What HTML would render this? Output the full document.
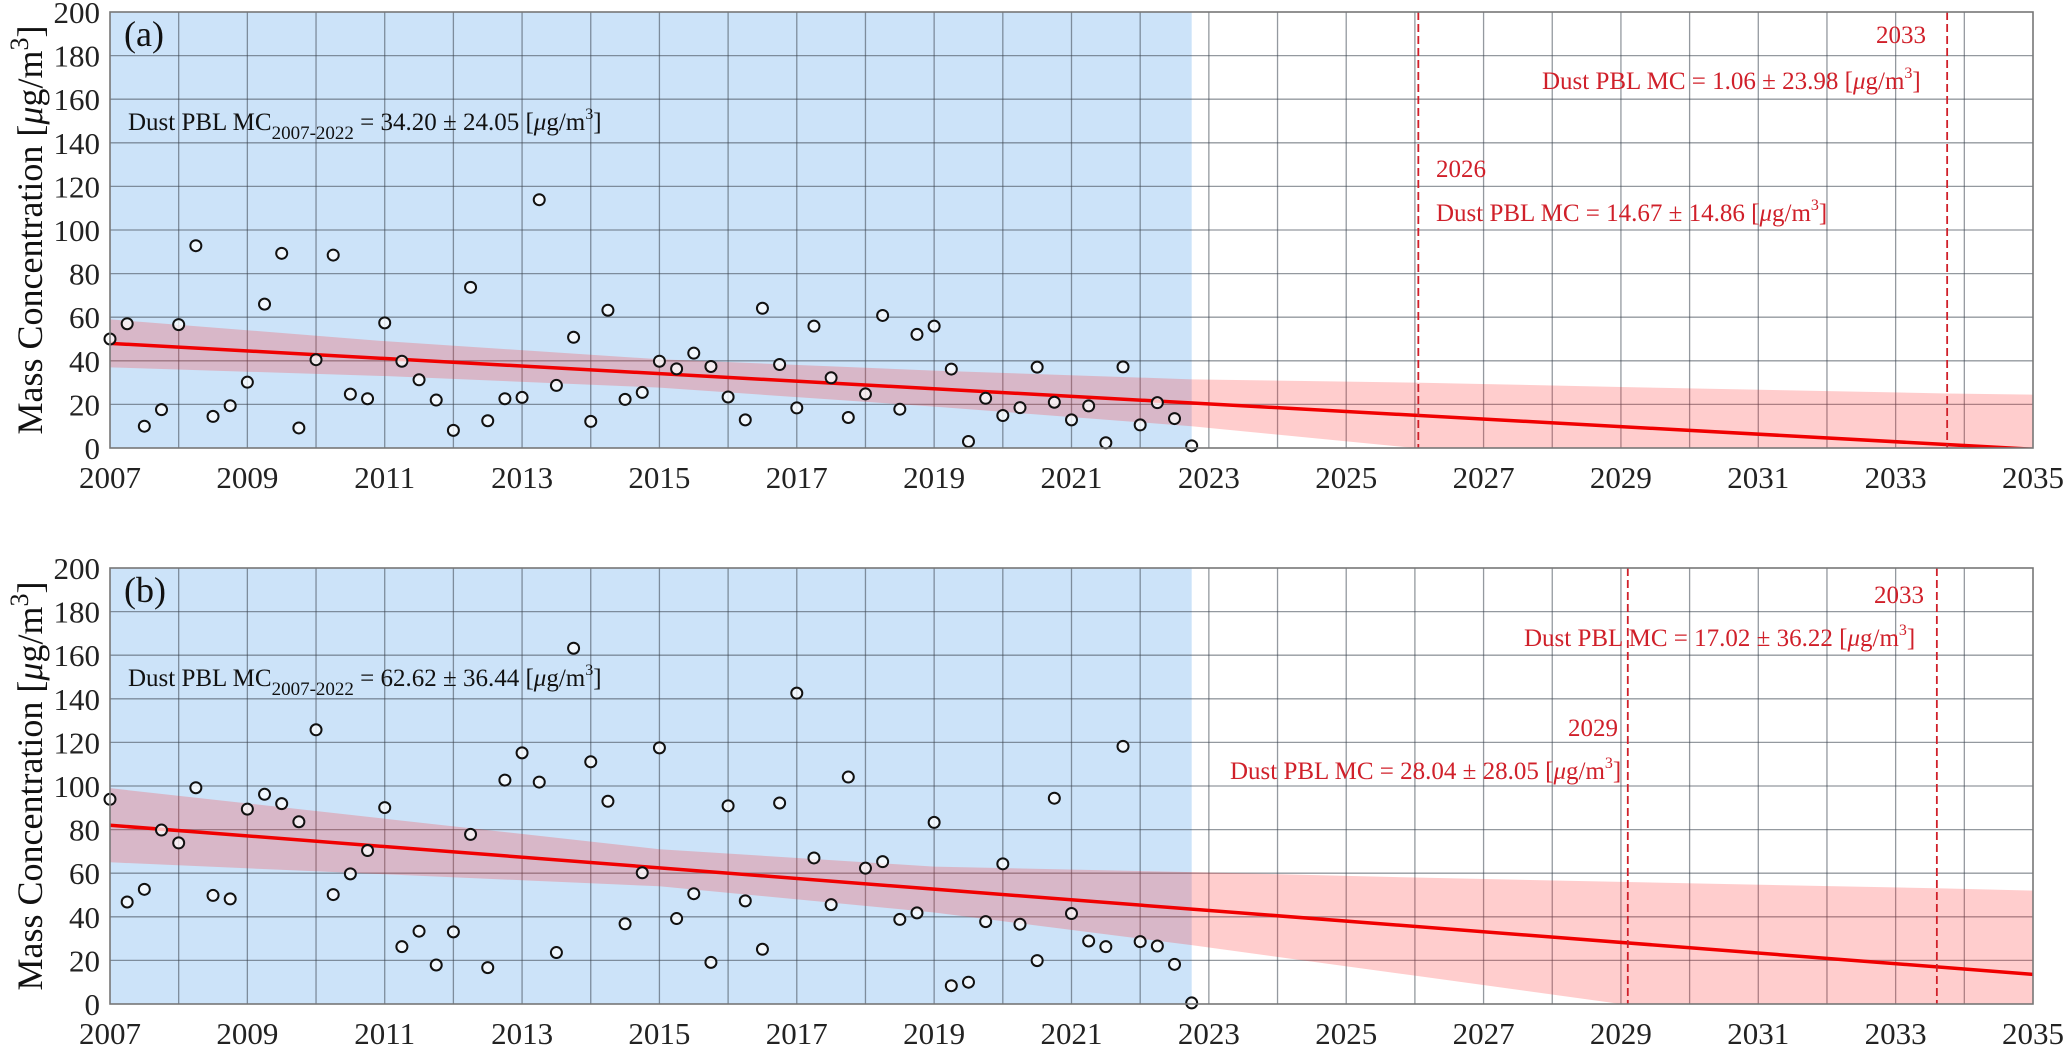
<!DOCTYPE html>
<html><head><meta charset="utf-8"><style>
html,body{margin:0;padding:0;background:#fff;}
svg{display:block;font-family:"Liberation Serif",serif;}
</style></head><body>
<svg id="chart" width="2067" height="1049" viewBox="0 0 2067 1049" xmlns="http://www.w3.org/2000/svg"></svg>
<script>
// ---- data ----
const yearsStart = 2007;
const quarterStep = 0.25;
const valuesA = [50,57,10,17.6,56.6,92.8,14.5,19.4,30.2,66,89.3,9.2,40.5,88.5,24.7,22.6,57.4,39.8,31.3,22,8.1,73.7,12.5,22.6,23.2,113.9,28.7,50.8,12.2,63.2,22.3,25.5,39.8,36.3,43.5,37.4,23.4,12.9,64.1,38.3,18.4,55.9,32.2,14,24.8,60.8,17.8,52.1,55.9,36.2,3,22.8,14.9,18.5,37.1,21,12.9,19.3,2.4,37.2,10.6,20.8,13.5,1];
const valuesB = [93.9,46.8,52.6,79.8,73.9,99.2,49.8,48.2,89.4,96.2,91.9,83.6,125.8,50.2,59.7,70.4,90.1,26.3,33.4,17.9,33.1,77.8,16.7,102.7,115.2,101.8,23.6,163.2,111.1,93,36.8,60.2,117.5,39.2,50.6,19.1,90.9,47.3,25.1,92.2,142.6,67,45.6,104.1,62.3,65.3,38.8,41.8,83.3,8.4,10,37.8,64.3,36.6,19.9,94.4,41.5,28.9,26.3,118.2,28.6,26.6,18.2,0.5];
const bandYears = [2007,2011,2015,2019,2022.75,2026,2029,2033.75,2035];
const upperA = [59,49,40.7,35.5,31.5,30,28,25,24.5];
const lowerA = [37,33,27.7,19,10,0,-8,-22.5,-25];
const upperB = [99,85,71,63,60.5,58,56,53,52];
const lowerB = [65,59.5,54,42,27,13,0,-20,-25];
const trendYears = [2007,2035];
const trendA = [48,-0.6];
const trendB = [82,13.6];
const observedEnd = 2022.75;
const markerYearsA = [2026.05,2033.75];
const markerYearsB = [2029.1,2033.6];
const xTicks = [2007,2009,2011,2013,2015,2017,2019,2021,2023,2025,2027,2029,2031,2033,2035];
const yTicks = [0,20,40,60,80,100,120,140,160,180,200];

// ---- layout ----
const X0=110, X1=2033;
const panels=[
 {id:'a',top:12,bot:448,vals:valuesA,up:upperA,lo:lowerA,trend:trendA,marks:markerYearsA,
  mean:'34.20 ± 24.05',
  ann:[
   {t:'2026',x:1436,y:177,anchor:'start'},
   {t:'Dust PBL MC = 14.67 ± 14.86 [',x:1436,y:221,anchor:'start',unit:true},
   {t:'2033',x:1926,y:43,anchor:'end'},
   {t:'Dust PBL MC = 1.06 ± 23.98 [',x:1542,y:89,anchor:'start',unit:true}]},
 {id:'b',top:568,bot:1004,vals:valuesB,up:upperB,lo:lowerB,trend:trendB,marks:markerYearsB,
  mean:'62.62 ± 36.44',
  ann:[
   {t:'2033',x:1924,y:603,anchor:'end'},
   {t:'Dust PBL MC = 17.02 ± 36.22 [',x:1524,y:646,anchor:'start',unit:true},
   {t:'2029',x:1568,y:736,anchor:'start'},
   {t:'Dust PBL MC = 28.04 ± 28.05 [',x:1230,y:779,anchor:'start',unit:true}]}
];
const NS='http://www.w3.org/2000/svg';
const svg=document.getElementById('chart');
function mk(tag,attrs,parent){const e=document.createElementNS(NS,tag);for(const k in attrs)e.setAttribute(k,attrs[k]);(parent||svg).appendChild(e);return e;}
const xs=t=>X0+(t-2007)/(2035-2007)*(X1-X0);
const defs=mk('defs',{});
panels.forEach(p=>{
 const ys=v=>p.bot-v/200*(p.bot-p.top);
 const g=mk('g',{});
 
 
 const cp=mk('clipPath',{id:'clip'+p.id},defs);
 mk('rect',{x:X0,y:p.top,width:X1-X0,height:p.bot-p.top},cp);
 const obs=mk('rect',{x:X0,y:p.top,width:xs(observedEnd)-X0,height:p.bot-p.top,fill:'#cce3f9'},g);
 
 
 for(let yr=2008;yr<2035;yr++){
  const l=mk('line',{x1:xs(yr),x2:xs(yr),y1:p.top,y2:p.bot,stroke:'#3c4650','stroke-opacity':0.55,'stroke-width':1.3},g);
  
  
 }
 yTicks.forEach(v=>{if(v===0||v===200)return;
  const l=mk('line',{x1:X0,x2:X1,y1:ys(v),y2:ys(v),stroke:'#3c4650','stroke-opacity':0.55,'stroke-width':1.3},g);
  
  
 });
 const cg=mk('g',{'clip-path':'url(#clip'+p.id+')'},g);
 let pts=bandYears.map((t,i)=>xs(t)+','+ys(p.up[i]));
 pts=pts.concat(bandYears.map((t,i)=>xs(t)+','+ys(p.lo[i])).reverse());
 const band=mk('polygon',{points:pts.join(' '),fill:'#ff3030','fill-opacity':0.24},cg);
 
 
 const tl=mk('line',{x1:xs(trendYears[0]),y1:ys(p.trend[0]),x2:xs(trendYears[1]),y2:ys(p.trend[1]),stroke:'#f00000','stroke-width':3.5},cg);
 
 
 p.marks.forEach(t=>{
  const l=mk('line',{x1:xs(t),x2:xs(t),y1:p.top,y2:p.bot,stroke:'#d0202a','stroke-width':1.8,'stroke-dasharray':'8,4'},g);
  
  
 });
 p.vals.forEach((v,i)=>{
  const c=mk('circle',{cx:xs(yearsStart+i*quarterStep),cy:ys(v),r:5.5,fill:'#fff','fill-opacity':0.75,stroke:'#111','stroke-width':2},g);
  
  
 });
 const fr=mk('rect',{x:X0,y:p.top,width:X1-X0,height:p.bot-p.top,fill:'none',stroke:'#777','stroke-width':1.6},g);
 
 
 yTicks.forEach(v=>{
  const t=mk('text',{x:100,y:ys(v)+11,'text-anchor':'end','font-size':31,fill:'#222'},g);
  t.textContent=v;
  
  
 });
 xTicks.forEach(v=>{
  const t=mk('text',{x:xs(v),y:p.bot+40,'text-anchor':'middle','font-size':31,fill:'#222'},g);
  t.textContent=v;
  
  
 });
 const pl=mk('text',{x:124,y:p.top+34,'font-size':36,fill:'#111'},g);
 pl.textContent='('+p.id+')';
 
 
 const mt=mk('text',{x:128,y:p.top+118,'font-size':25,fill:'#111'},g);
 
 
 mt.innerHTML='Dust PBL MC<tspan font-size="19" dy="9">2007-2022</tspan><tspan dy="-9"> = '+p.mean+' [</tspan><tspan font-style="italic">μ</tspan>g/m<tspan font-size="16" dy="-11">3</tspan><tspan dy="11">]</tspan>';
 const yt=mk('text',{x:0,y:0,'font-size':36,fill:'#111','text-anchor':'middle',transform:'translate(42,'+((p.top+p.bot)/2)+') rotate(-90)'},g);
 
 
 yt.innerHTML='Mass Concentration [<tspan font-style="italic">μ</tspan>g/m<tspan font-size="26" dy="-14">3</tspan><tspan dy="14">]</tspan>';
 p.ann.forEach(a=>{
  const t=mk('text',{x:a.x,y:a.y,'font-size':25,fill:'#d0202a','text-anchor':a.anchor},g);
  
  
  if(a.unit) t.innerHTML=a.t+'<tspan font-style="italic">μ</tspan>g/m<tspan font-size="16" dy="-11">3</tspan><tspan dy="11">]</tspan>';
  else t.textContent=a.t;
 });
});
</script>
</body></html>
